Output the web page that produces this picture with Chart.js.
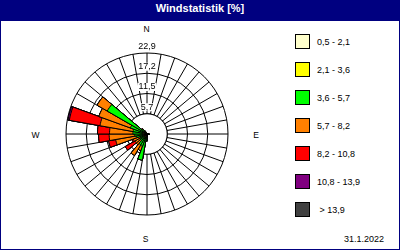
<!DOCTYPE html>
<html>
<head>
<meta charset="utf-8">
<script src="https://cdn.jsdelivr.net/npm/chart.js@4/dist/chart.umd.min.js"></script>
<style>
  body { margin: 0; width: 400px; height: 250px; background: #000080; position: relative; overflow: hidden;
         font-family: "Liberation Sans", Arial, sans-serif; }
  #frame { position: absolute; left: 1px; top: 21px; width: 398px; height: 228px; background: #fff; }
  #title { position: absolute; left: 0; top: 0; width: 400px; height: 17px; line-height: 17px; text-align: center;
           color: #fff; font-weight: bold; font-size: 11px; }
  .lbl { position: absolute; transform: translate(-50%, -50%); font-size: 8.5px; line-height: 1; color: #000; white-space: pre; }
  #roseBox { position: absolute; left: 46px; top: 33px; width: 202px; height: 202px; }
  .box { position: absolute; left: 295px; width: 13px; height: 13px; border: 1px solid #000; }
  .txt { position: absolute; left: 317px; font-family: "Liberation Sans Narrow", "Liberation Sans", Arial, sans-serif;
         font-size: 9px; line-height: 1; transform: translateY(-50%); white-space: pre; color: #000; }
  #date { position: absolute; right: 16px; top: 239px; transform: translateY(-50%); font-size: 9px; line-height: 1; }
</style>
</head>
<body>
<div id="frame"></div>
<div id="title">Windstatistik [%]</div>
<div class="lbl" style="left:146.5px;top:28.5px">N</div>
<div class="lbl" style="left:35.5px;top:135px">W</div>
<div class="lbl" style="left:256px;top:135px">E</div>
<div class="lbl" style="left:145.5px;top:238.5px">S</div>
<div id="roseBox"><canvas id="rose" width="202" height="202"></canvas></div>
<div id="legend"></div>
<div id="date">31.1.2022</div>
<script>
// direction sectors (degrees, start of each 10° sector)
const directions = [0, 10, 20, 30, 40, 50, 60, 70, 80, 90, 100, 110, 120, 130, 140, 150, 160, 170,
  180, 190, 200, 210, 220, 230, 240, 250, 260, 270, 280, 290, 300, 310, 320, 330, 340, 350];

const classLabels = ['0,5 - 2,1', '2,1 - 3,6', '3,6 - 5,7', '5,7 - 8,2', '8,2 - 10,8', '10,8 - 13,9', ' > 13,9'];
const classColors = ['#ffffcc', '#ffff00', '#00ff00', '#ff8000', '#ff0000', '#800080', '#404040'];

// share [%] per speed class and direction
const cls1 = [0, 0, 0, 0, 0, 0, 0, 0, 0, 0.1, 0, 0, 0, 0, 0, 0, 0, 0.1,
  0.2, 0.3, 0.3, 0.3, 0.3, 0.3, 0.3, 0.3, 0.3, 0.3, 0.3, 0.3, 0.3, 0.2, 0.2, 0.1, 0, 0];
const cls2 = [0, 0, 0, 0, 0, 0, 0, 0, 0, 0.2, 0, 0, 0, 0, 0, 0, 0, 0.2,
  0.4, 0.6, 0.6, 0.6, 0.6, 0.6, 0.6, 0.7, 0.7, 0.7, 0.7, 0.7, 0.7, 0.5, 0.3, 0.2, 0, 0];
const cls3 = [0, 0, 0, 0, 0, 0, 0, 0, 0, 0.4, 0, 0, 0, 0, 0, 0, 0, 0.3,
  1.2, 6.6, 2.8, 2.6, 1.6, 1.4, 1.2, 2.0, 2.5, 3.0, 3.0, 4.0, 12.0, 1.0, 0.4, 0, 0, 0];
const cls4 = [0, 0, 0, 0, 0, 0, 0, 0, 0, 0, 0, 0, 0, 0, 0, 0, 0, 0,
  0.3, 0, 1.3, 3.5, 1.5, 1.6, 2.0, 6.0, 7.2, 6.6, 9.5, 9.5, 3.3, 0.3, 0, 0, 0, 0];
const cls5 = [0, 0, 0, 0, 0, 0, 0, 0, 0, 0, 0, 0, 0, 0, 0, 0, 0, 0,
  0, 0, 0, 0, 0, 3.2, 0.4, 2.0, 3.0, 3.4, 8.8, 0, 0, 0, 0, 0, 0, 0];
const cls6 = [0, 0, 0, 0, 0, 0, 0, 0, 0, 0, 0, 0, 0, 0, 0, 0, 0, 0,
  0, 0, 0, 0, 0, 0, 0, 0, 0, 0, 0.4, 0, 0, 0, 0, 0, 0, 0];
const cls7 = [0, 0, 0, 0, 0, 0, 0, 0, 0, 0, 0, 0, 0, 0, 0, 0, 0, 0,
  0, 0, 0, 0, 0, 0, 0, 0, 0, 0, 0, 0, 0, 0, 0, 0, 0, 0];

const ringValues = [0, 5.725, 11.45, 17.175, 22.9];
const ringLabels = ['', '5,7', '11,5', '17,2', '22,9'];

// legend
const legend = document.getElementById('legend');
classLabels.forEach((label, i) => {
  const y = 34 + i * 28;
  const box = document.createElement('div');
  box.className = 'box';
  box.style.top = y + 'px';
  box.style.background = classColors[i];
  legend.appendChild(box);
  const txt = document.createElement('div');
  txt.className = 'txt';
  txt.style.top = (y + 7.5) + 'px';
  txt.textContent = label;
  legend.appendChild(txt);
});

// stack the classes outward: dataset 0 is drawn on top
const classes = [cls1, cls2, cls3, cls4, cls5, cls6, cls7];
const running = directions.map(() => 0);
const datasets = classes.map((values, i) => {
  values.forEach((v, j) => { running[j] += v; });
  return {
    label: classLabels[i],
    data: running.slice(),
    backgroundColor: classColors[i],
    borderColor: '#000',
    borderWidth: 1,
  };
});

const roseDecor = {
  id: 'roseDecor',
  beforeDatasetsDraw(chart) {
    const s = chart.scales.r;
    const c = chart.ctx;
    const r0 = s.getDistanceFromCenterForValue(ringValues[1]);
    c.save();
    c.beginPath();
    c.arc(s.xCenter, s.yCenter, r0, 0, 2 * Math.PI);
    c.fillStyle = '#fff';
    c.fill();
    c.strokeStyle = '#000';
    c.lineWidth = 1;
    c.stroke();
    c.font = '9px "Liberation Sans", Arial, sans-serif';
    c.textAlign = 'center';
    c.textBaseline = 'middle';
    ringValues.forEach((v, i) => {
      if (!ringLabels[i]) return;
      const y = s.yCenter - s.getDistanceFromCenterForValue(v) - 6.5;
      const w = c.measureText(ringLabels[i]).width;
      c.fillStyle = '#fff';
      c.fillRect(s.xCenter - w / 2 - 1, y - 4, w + 2, 8);
      c.fillStyle = '#000';
      c.fillText(ringLabels[i], s.xCenter, y);
    });
    c.restore();
  },
};

new Chart(document.getElementById('rose'), {
  type: 'polarArea',
  data: {
    labels: directions.map((d) => d + '°'),
    datasets,
  },
  options: {
    responsive: false,
    animation: false,
    layout: { padding: 20 },
    plugins: {
      legend: { display: false },
      tooltip: { enabled: false },
    },
    scales: {
      r: {
        min: 0,
        max: 22.9,
        startAngle: 0,
        ticks: { display: false },
        afterBuildTicks(scale) {
          scale.ticks = ringValues.map((v) => ({ value: v }));
        },
        grid: { color: '#000', lineWidth: 1, circular: true },
        angleLines: { display: true, color: '#000', lineWidth: 1 },
        pointLabels: { display: false },
      },
    },
  },
  plugins: [roseDecor],
});
</script>
</body>
</html>
